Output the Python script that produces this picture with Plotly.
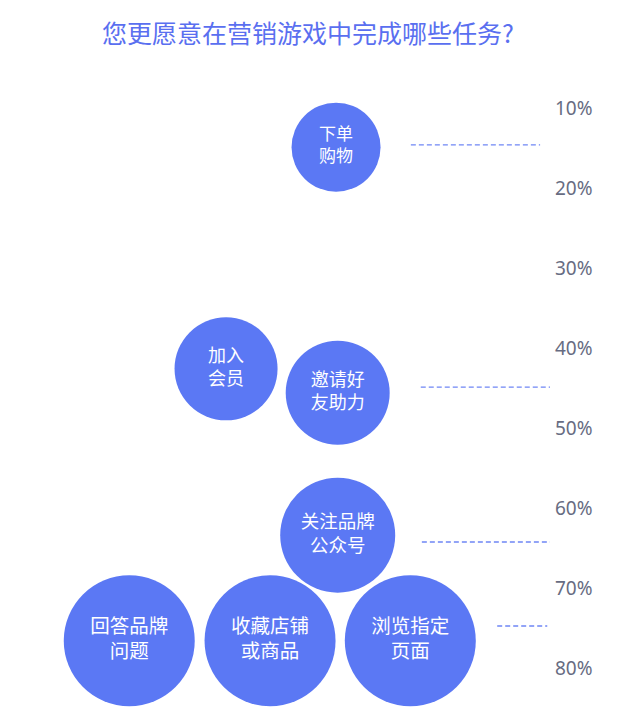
"""
Bubble infographic: which tasks users prefer to complete in marketing games.
"""

import plotly.graph_objects as go


# Data
tasks = [
    "下单<br>购物",
    "加入<br>会员",
    "邀请好<br>友助力",
    "关注品牌<br>公众号",
    "回答品牌<br>问题",
    "收藏店铺<br>或商品",
    "浏览指定<br>页面",
]
bubble_share = [14.9, 42.6, 45.6, 63.4, 76.6, 76.6, 76.6]   # bubble centre, %
bubble_weight = [44.5, 51.5, 52, 57.5, 65.5, 65.5, 65.5]    # relative bubble size

marked_tasks = ["下单购物", "邀请好友助力", "关注品牌公众号", "浏览指定页面"]
marked_share = [14.6, 44.9, 64.25, 74.75]                   # dashed marker level, %

tick_vals = [10, 20, 30, 40, 50, 60, 70, 80]
tick_text = ["10%", "20%", "30%", "40%", "50%", "60%", "70%", "80%"]

# Colours
BUBBLE = "#5b78f4"
DASH = "#6f86f5"
TITLE = "#5a6ff0"
TICK = "#676c82"

# Layout positions (horizontal slot of each bubble / extent of each marker)
BUBBLE_X = [61.1, 41.1, 61.4, 61.4, 23.5, 49.1, 74.6]
MARK_X = [(74.7, 98.2), (76.5, 100), (76.7, 100), (90.4, 99.5)]
LABEL_SIZE = [17, 18, 18, 18.5, 19.5, 19.5, 19.5]

# page body adds an 8px offset, so the figure is shifted back by that much
fig = go.Figure()

# --- dashed level markers ---
for name, val, (x0, x1) in zip(marked_tasks, marked_share, MARK_X):
    fig.add_trace(go.Scatter(
        x=[x0, x1], y=[val, val], mode="lines", name=name,
        line=dict(color=DASH, width=1.3, dash="5px,3px"),
        hoverinfo="skip",
    ))

# --- bubbles ---
fig.add_trace(go.Scatter(
    x=BUBBLE_X, y=bubble_share,
    mode="markers+text",
    text=tasks,
    textposition="middle center",
    textfont=dict(color="white", size=LABEL_SIZE, family="Noto Sans CJK SC"),
    marker=dict(size=bubble_weight, sizemode="diameter", sizeref=0.5,
                color=BUBBLE, line=dict(width=0), opacity=1),
    hoverinfo="skip",
))

fig.update_layout(
    width=634, height=727,
    margin=dict(l=0, r=92, t=52, b=20),
    paper_bgcolor="white",
    plot_bgcolor="white",
    showlegend=False,
    font=dict(family="Noto Sans CJK SC, Noto Sans", color=TICK),
    title=dict(
        text="您更愿意在营销游戏中完成哪些任务?",
        x=300 / 634, xanchor="center", y=1 - 26 / 727, yanchor="middle",
        font=dict(size=25, color=TITLE, family="Noto Sans CJK SC"),
    ),
)

fig.update_xaxes(range=[8 / 5.5, 100], visible=False, fixedrange=True)
fig.update_yaxes(
    side="right", range=[85.875, 4],
    tickvals=tick_vals, ticktext=tick_text,
    tickfont=dict(size=19, color=TICK, family="Noto Sans"),
    showgrid=False, zeroline=False, showline=False, ticks="",
    ticklabelstandoff=4, fixedrange=True,
)

fig.write_html("out.html")
